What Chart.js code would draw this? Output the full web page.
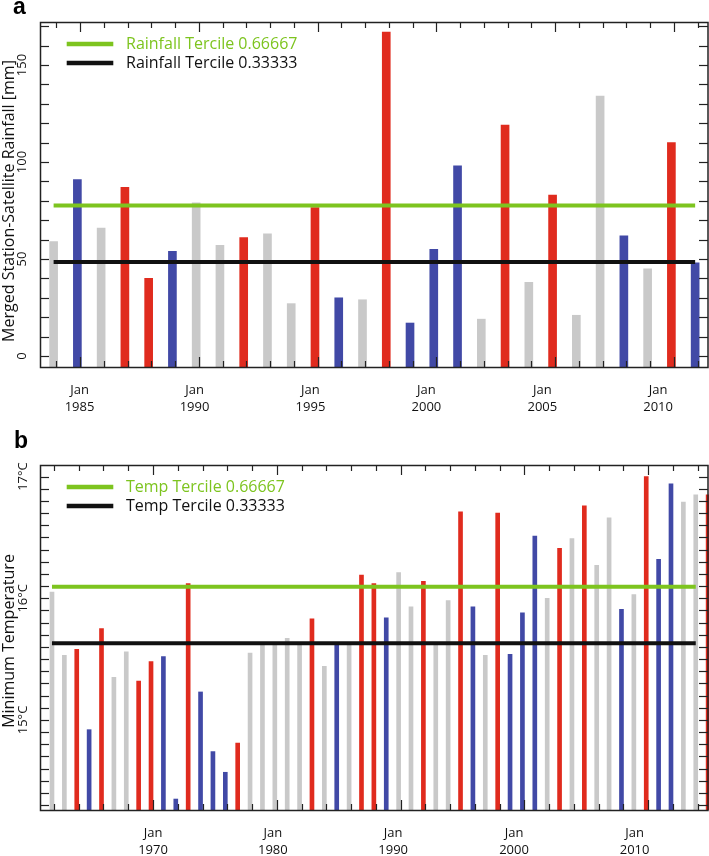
<!DOCTYPE html>
<html>
<head>
<meta charset="utf-8">
<script src="https://cdn.jsdelivr.net/npm/chart.js@4.4.1/dist/chart.umd.min.js"></script>
<style>
  html, body { margin: 0; padding: 0; background: #fff; }
  #wrap { position: relative; width: 709px; height: 856px; overflow: hidden; }
  canvas { position: absolute; left: 0; }
</style>
</head>
<body>
<div id="wrap">
  <canvas id="rainChart" width="709" height="420" style="top:0"></canvas>
  <canvas id="tempChart" width="709" height="436" style="top:420px"></canvas>
</div>
<script>
// ---- panel a: rainfall ----
const rainYears = [1984, 1985, 1986, 1987, 1988, 1989, 1990, 1991, 1992, 1993,
                   1994, 1995, 1996, 1997, 1998, 1999, 2000, 2001, 2002, 2003,
                   2004, 2005, 2006, 2007, 2008, 2009, 2010, 2011];
const rainValues = [59, 91, 66, 87, 40, 54, 79, 57, 61, 63,
                    27, 76.5, 30, 29, 167, 17, 55, 98, 19, 119,
                    38, 83, 21, 134, 62, 45, 110, 48];
// r = red, b = blue, n = neutral (grey)
const rainPhase = ['n', 'b', 'n', 'r', 'r', 'b', 'n', 'n', 'r', 'n',
                   'n', 'r', 'b', 'n', 'r', 'b', 'b', 'b', 'n', 'r',
                   'n', 'r', 'n', 'n', 'b', 'n', 'r', 'b'];
const rainTerciles = [77.6, 48.4];
const rainTercileNames = ['Rainfall Tercile 0.66667', 'Rainfall Tercile 0.33333'];
const rainTercileSpan = [1984, 2011];
const rainYTicks = [0, 50, 100, 150];
const rainYTickLabels = ['0', '50', '100', '150'];
const rainXLabelYears = ['1985', '1990', '1995', '2000', '2005', '2010'];
const rainXLabelAt = [1984.98, 1989.82, 1994.7, 1999.58, 2004.46, 2009.33];

// ---- panel b: minimum temperature ----
const tempYears = [1962, 1963, 1964, 1965, 1966, 1967, 1968, 1969, 1970, 1971,
                   1972, 1973, 1974, 1975, 1976, 1977, 1978, 1979, 1980, 1981,
                   1982, 1983, 1984, 1985, 1986, 1987, 1988, 1989, 1990, 1991,
                   1992, 1993, 1994, 1995, 1996, 1997, 1998, 1999, 2000, 2001,
                   2002, 2003, 2004, 2005, 2006, 2007, 2008, 2009, 2010, 2011,
                   2012, 2013, 2014, 2015];
const tempValues = [16.05, 15.53, 15.58, 14.92, 15.75, 15.35, 15.56, 15.32, 15.48, 15.52,
                    14.35, 16.12, 15.23, 14.74, 14.57, 14.81, 15.55, 15.62, 15.63, 15.67,
                    15.63, 15.83, 15.44, 15.63, 15.63, 16.19, 16.12, 15.84, 16.21, 15.93,
                    16.14, 15.62, 15.98, 16.71, 15.93, 15.53, 16.70, 15.54, 15.88, 16.51,
                    16.00, 16.41, 16.49, 16.76, 16.27, 16.66, 15.91, 16.03, 17.00, 16.32,
                    16.94, 16.79, 16.85, 16.85];
const tempPhase = ['n', 'n', 'r', 'b', 'r', 'n', 'n', 'r', 'r', 'b',
                   'b', 'r', 'b', 'b', 'b', 'r', 'n', 'n', 'n', 'n',
                   'n', 'r', 'n', 'b', 'n', 'r', 'r', 'b', 'n', 'n',
                   'r', 'n', 'n', 'r', 'b', 'n', 'r', 'b', 'b', 'b',
                   'n', 'r', 'n', 'r', 'n', 'n', 'b', 'n', 'r', 'b',
                   'b', 'n', 'n', 'r'];
const tempTerciles = [16.095, 15.63];
const tempTercileNames = ['Temp Tercile 0.66667', 'Temp Tercile 0.33333'];
const tempTercileSpan = [1962, 2014];
const tempYTicks = [15, 16, 17];
const tempYTickLabels = ['15°C', '16°C', '17°C'];
const tempXLabelYears = ['1970', '1980', '1990', '2000', '2010'];
const tempXLabelAt = [1970, 1979.68, 1989.4, 1999.16, 2008.9];

const PHASE_COLORS = { r: '#e02b1e', b: '#4149a6', n: '#c9c9c9' };
const TERCILE_COLORS = ['#7dc41f', '#111111'];
const FONT = '"Open Sans", "DejaVu Sans", sans-serif';

// frame, inward ticks, rotated y labels, legend and panel letter
const framePlugin = {
    id: 'frame',
    afterDraw(chart, args, o) {
        const { ctx, chartArea: a } = chart;
        const xs = chart.scales.x, ys = chart.scales.y;
        const seg = (x1, y1, x2, y2) => { ctx.beginPath(); ctx.moveTo(x1, y1); ctx.lineTo(x2, y2); ctx.stroke(); };
        ctx.save();
        ctx.strokeStyle = '#222';
        ctx.lineWidth = 1.5;
        ctx.strokeRect(a.left + 0.5, a.top + 0.5, a.right - a.left - 1.5, a.bottom - a.top);

        ctx.lineWidth = 1.2;
        for (let i = Math.ceil(xs.min / o.xStep); i <= Math.floor(xs.max / o.xStep); i++) {
            const px = Math.round(xs.getPixelForValue(i * o.xStep)) + 0.5;
            const len = i % o.xMajorEvery === 0 ? 10 : 6;
            seg(px, a.top, px, a.top + len);
            seg(px, a.bottom, px, a.bottom - len);
        }
        for (let i = Math.ceil(ys.min / o.yStep - 1e-6); i <= Math.floor(ys.max / o.yStep + 1e-6); i++) {
            const py = Math.round(ys.getPixelForValue(i * o.yStep)) + 0.5;
            seg(a.left, py, a.left + 9, py);
            seg(a.right - 1, py, a.right - 10, py);
        }

        ctx.fillStyle = '#111';
        ctx.font = '13px ' + FONT;
        ctx.textAlign = 'center';
        ctx.textBaseline = 'middle';
        o.yTicks.forEach((v, i) => {
            ctx.save();
            ctx.translate(o.yLabelX, ys.getPixelForValue(v));
            ctx.rotate(-Math.PI / 2);
            ctx.fillText(o.yTickLabels[i], 0, 0);
            ctx.restore();
        });
        o.xLabelAt.forEach((v, i) => {
            const px = xs.getPixelForValue(v);
            ctx.fillText('Jan', px, a.bottom + 23);
            ctx.fillText(o.xLabelYears[i], px, a.bottom + 40.5);
        });

        ctx.font = '16px ' + FONT;
        ctx.save();
        ctx.translate(o.titleX, o.titleY);
        ctx.rotate(-Math.PI / 2);
        ctx.fillText(o.title, 0, 0);
        ctx.restore();

        ctx.textAlign = 'left';
        o.legend.forEach((text, i) => {
            const y = a.top + 22 + i * 19;
            ctx.strokeStyle = TERCILE_COLORS[i];
            ctx.lineWidth = 4.3;
            seg(66.7, y, 113.3, y);
            ctx.fillStyle = TERCILE_COLORS[i];
            ctx.fillText(text, 126, y);
        });

        ctx.fillStyle = '#000';
        ctx.font = 'bold 23px "Liberation Sans", Arial, sans-serif';
        ctx.textBaseline = 'alphabetic';
        ctx.fillText(o.letter, o.letterX, o.letterY);
        ctx.restore();
    }
};

function tercileDataset(value, span, shift, idx) {
    return {
        type: 'line',
        data: [{ x: span[0] - shift, y: value }, { x: span[1] - shift, y: value }],
        borderColor: TERCILE_COLORS[idx],
        borderWidth: 4,
        pointRadius: 0,
        order: 0
    };
}

function buildChart(id, p) {
    const bars = p.years.map((yr, i) => ({ x: yr - p.shift, y: p.values[i] }));
    return new Chart(document.getElementById(id), {
        type: 'bar',
        data: {
            datasets: [
                tercileDataset(p.terciles[0], p.span, p.shift, 0),
                tercileDataset(p.terciles[1], p.span, p.shift, 1),
                {
                    data: bars,
                    backgroundColor: p.phase.map(c => PHASE_COLORS[c]),
                    barThickness: p.barWidth,
                    base: p.yMin,
                    clip: 0,
                    order: 1
                }
            ]
        },
        options: {
            responsive: false,
            animation: false,
            devicePixelRatio: 1,
            layout: { padding: p.padding },
            plugins: { legend: { display: false }, tooltip: { enabled: false }, frame: p.frame },
            scales: {
                x: { type: 'linear', display: false, offset: false, min: p.xMin, max: p.xMax },
                y: { type: 'linear', display: false, min: p.yMin, max: p.yMax }
            }
        },
        plugins: [framePlugin]
    });
}

buildChart('rainChart', {
    years: rainYears, values: rainValues, phase: rainPhase,
    terciles: rainTerciles, span: rainTercileSpan, shift: 0.11, barWidth: 8,
    xMin: 1983.317, xMax: 2011.473, yMin: -5.67, yMax: 172.2,
    padding: { left: 40, top: 22, right: 0, bottom: 53 },
    frame: {
        xStep: 1, xMajorEvery: 5, yStep: 10,
        yTicks: rainYTicks, yTickLabels: rainYTickLabels, yLabelX: 22,
        xLabelAt: rainXLabelAt, xLabelYears: rainXLabelYears,
        title: 'Merged Station-Satellite Rainfall [mm]', titleX: 9, titleY: 201,
        legend: rainTercileNames, letter: 'a', letterX: 13, letterY: 13.5
    }
});

buildChart('tempChart', {
    years: tempYears, values: tempValues, phase: tempPhase,
    terciles: tempTerciles, span: tempTercileSpan, shift: 0.16, barWidth: 4,
    xMin: 1960.872, xMax: 2014.91, yMin: 14.26, yMax: 17.095,
    padding: { left: 40, top: 45, right: 0, bottom: 46 },
    frame: {
        xStep: 2, xMajorEvery: 5, yStep: 0.1,
        yTicks: tempYTicks, yTickLabels: tempYTickLabels, yLabelX: 23,
        xLabelAt: tempXLabelAt, xLabelYears: tempXLabelYears,
        title: 'Minimum Temperature', titleX: 9, titleY: 221,
        legend: tempTercileNames, letter: 'b', letterX: 14, letterY: 28
    }
});
</script>
</body>
</html>
